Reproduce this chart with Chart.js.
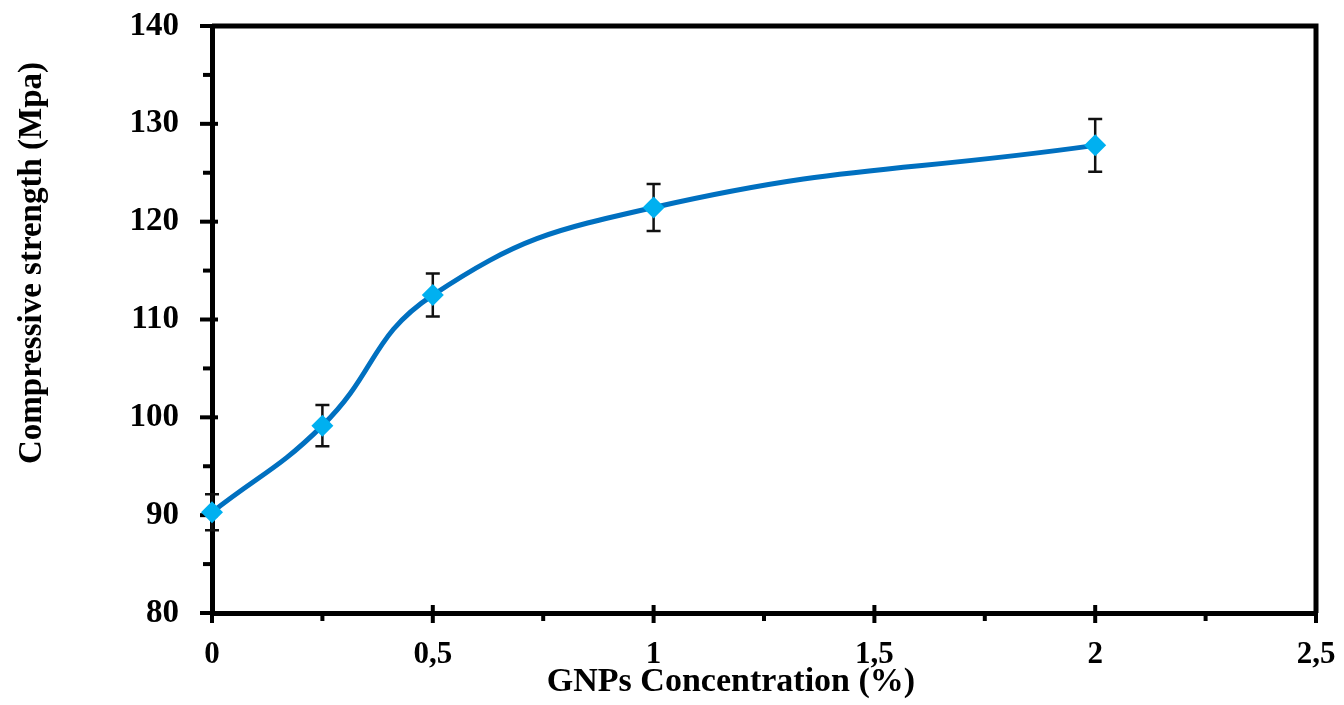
<!DOCTYPE html>
<html>
<head>
<meta charset="utf-8">
<script src="https://cdn.jsdelivr.net/npm/chart.js@4/dist/chart.umd.min.js"></script>
<style>
  html, body { margin: 0; padding: 0; background: #fff; }
  .chart-box { width: 1344px; height: 705px; }
</style>
</head>
<body>
<div class="chart-box"><canvas class="js-chart"></canvas></div>
<script>
const concentration = [0, 0.25, 0.5, 1, 2];
const strength = [90.3, 99.15, 112.5, 121.45, 127.8];
const errorSize = [1.85, 2.1, 2.2, 2.4, 2.7];

const xTickLabels = ['0', '0,5', '1', '1,5', '2', '2,5'];
const yTickLabels = ['80', '90', '100', '110', '120', '130', '140'];

const xTitle = 'GNPs Concentration (%)';
const yTitle = 'Compressive strength (Mpa)';

const serif = "'Liberation Serif', 'Times New Roman', serif";

// ticks that cross the axes, plot frame and error bars
const decorPlugin = {
  id: 'decor',
  beforeDatasetsDraw(chart) {
    const { ctx, chartArea: a, scales: { x, y } } = chart;
    ctx.save();
    ctx.strokeStyle = '#000';
    ctx.lineJoin = 'miter';
    ctx.lineWidth = 5;
    ctx.beginPath();
    ctx.moveTo(a.left, a.top);
    ctx.lineTo(a.right, a.top);
    ctx.lineTo(a.right, a.bottom);
    ctx.stroke();

    ctx.lineWidth = 4;
    const yt = y.ticks.map(t => t.value);
    yt.forEach((v, i) => {
      const py = y.getPixelForValue(v);
      ctx.beginPath();
      ctx.moveTo(a.left - 12, py);
      ctx.lineTo(a.left + 6, py);
      ctx.stroke();
      if (i < yt.length - 1) {
        const my = y.getPixelForValue((v + yt[i + 1]) / 2);
        ctx.beginPath();
        ctx.moveTo(a.left - 9, my);
        ctx.lineTo(a.left, my);
        ctx.stroke();
      }
    });
    const xt = x.ticks.map(t => t.value);
    xt.forEach((v, i) => {
      const px = x.getPixelForValue(v);
      ctx.beginPath();
      ctx.moveTo(px, a.bottom - 8);
      ctx.lineTo(px, a.bottom + 10);
      ctx.stroke();
      if (i < xt.length - 1) {
        const mx = x.getPixelForValue((v + xt[i + 1]) / 2);
        ctx.beginPath();
        ctx.moveTo(mx, a.bottom);
        ctx.lineTo(mx, a.bottom + 8);
        ctx.stroke();
      }
    });

    // error bars
    ctx.strokeStyle = '#111';
    ctx.lineWidth = 2.5;
    concentration.forEach((c, i) => {
      const px = x.getPixelForValue(c);
      const top = y.getPixelForValue(strength[i] + errorSize[i]);
      const bot = y.getPixelForValue(strength[i] - errorSize[i]);
      ctx.beginPath();
      ctx.moveTo(px, top); ctx.lineTo(px, bot);
      ctx.moveTo(px - 7, top); ctx.lineTo(px + 7, top);
      ctx.moveTo(px - 7, bot); ctx.lineTo(px + 7, bot);
      ctx.stroke();
    });
    ctx.restore();
  },
  afterDraw(chart) {
    const { ctx } = chart;
    ctx.save();
    ctx.fillStyle = '#000';
    ctx.font = 'bold 34px ' + serif;
    ctx.textAlign = 'center';
    ctx.textBaseline = 'alphabetic';
    ctx.fillText(xTitle, 731, 691);
    ctx.translate(41, 263);
    ctx.rotate(-Math.PI / 2);
    ctx.font = 'bold 33px ' + serif;
    ctx.fillText(yTitle, 0, 0);
    ctx.restore();
  }
};

const ctx = document.querySelector('.js-chart').getContext('2d');

const strengthChart = new Chart(ctx, {
  type: 'scatter',
  data: {
    datasets: [{
      data: concentration.map((c, i) => ({ x: c, y: strength[i] })),
      showLine: true,
      borderColor: '#0070C0',
      borderWidth: 5,
      tension: 0.45,
      pointStyle: 'rectRot',
      pointRadius: 11,
      pointBackgroundColor: '#00B0F0',
      pointBorderColor: '#00B0F0',
      pointBorderWidth: 0,
      clip: false
    }]
  },
  options: {
    responsive: true,
    maintainAspectRatio: false,
    animation: false,
    layout: { padding: { top: 26, right: 28, left: 0, bottom: 0 } },
    plugins: {
      legend: { display: false },
      tooltip: { enabled: false }
    },
    scales: {
      x: {
        type: 'linear',
        min: 0,
        max: 2.5,
        afterFit: (scale) => {
          scale.height = 92;
          scale.paddingLeft = 0;
          scale.paddingRight = 0;
        },
        grid: { display: false, drawTicks: false },
        border: { display: true, color: '#000', width: 5 },
        ticks: {
          stepSize: 0.5,
          padding: 23,
          color: '#000',
          font: { family: serif, size: 31, weight: 'bold' },
          callback: (v, i) => xTickLabels[i]
        }
      },
      y: {
        min: 80,
        max: 140,
        afterFit: (scale) => {
          scale.width = 212;
          scale.paddingTop = 0;
          scale.paddingBottom = 0;
        },
        grid: { display: false, drawTicks: false },
        border: { display: true, color: '#000', width: 5 },
        ticks: {
          stepSize: 10,
          padding: 33,
          color: '#000',
          font: { family: serif, size: 33, weight: 'bold' },
          callback: (v, i) => yTickLabels[i]
        }
      }
    }
  },
  plugins: [decorPlugin]
});
</script>
</body>
</html>
